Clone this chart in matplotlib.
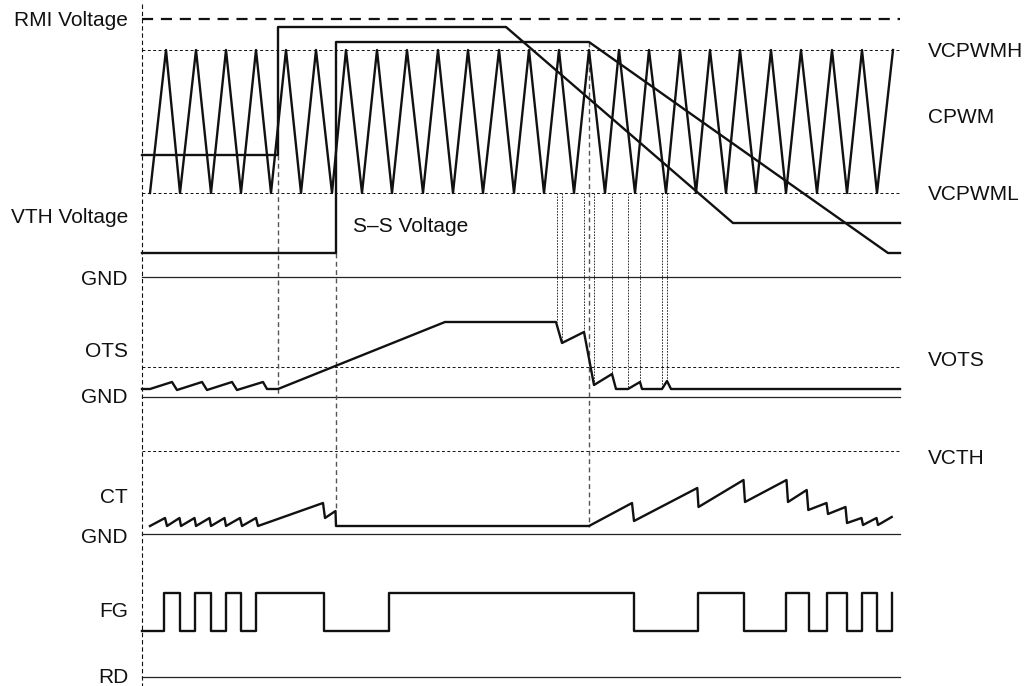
import matplotlib
matplotlib.use('Agg')
import matplotlib.pyplot as plt

plt.rcParams['font.family'] = ['Liberation Sans', 'DejaVu Sans']

# Layout in pixel units (x = time, y = level, top-down)
X0, X1 = 142, 900

# CPWM triangle carrier: trough and peak times
cpwm_troughs = [150, 180, 211, 241, 271, 301, 332, 362, 392, 423, 453, 483, 514,
                544, 574, 605, 635, 666, 696, 726, 756, 786, 817, 847, 877]
cpwm_peaks = [166, 196, 226, 256, 286, 316, 346, 377, 407, 438, 468, 499, 529,
              559, 589, 619, 649, 680, 710, 740, 771, 801, 832, 862, 893]
VCPWMH, VCPWML = 50, 193

# RMI voltage (solid) and S-S voltage waveforms
rmi_t = [142, 278, 278, 506, 733, 900]
rmi_v = [155, 155, 27, 27, 223, 223]
ss_t = [142, 336, 336, 589, 888, 900]
ss_v = [253, 253, 42, 42, 253, 253]

# OTS waveform
ots_t = [142, 150, 172, 177, 202, 207, 232, 237, 263, 267, 278, 445, 556, 562,
         584, 594, 612, 616, 628, 640, 642, 662, 667, 671, 900]
ots_v = [389, 389, 382, 390, 382, 390, 382, 390, 382, 389, 389, 322, 322, 343,
         332, 385, 374, 389, 389, 382, 389, 389, 381, 389, 389]
VOTS = 367

# CT waveform
ct_t = [150, 165, 167, 179.5, 181, 194.5, 196, 209.5, 211, 224.5, 226, 240, 242,
        256, 258, 323, 325, 335.5, 336, 589, 632, 634, 697.3, 698.5, 743.5, 745,
        786.5, 788, 806.7, 808.3, 826.5, 828, 845.5, 847, 861.5, 863, 876.5, 878, 891.7]
ct_v = [526, 518, 526, 518, 526, 518, 526, 518, 526, 518, 526, 518, 526,
        518, 526, 503, 518, 511, 526, 526, 503, 521, 488, 507, 480, 502,
        480, 502, 490, 510, 503, 514, 507, 523, 518, 525, 518, 525, 517]
VCTH = 451

# FG square wave edges (starting low)
fg_edges = [142, 164.3, 180, 195, 210.7, 225.7, 240.7, 256, 324, 389.3, 634, 697.7,
            744.3, 786, 809, 826.7, 846.7, 861.7, 876.7, 891.7]
fg_state = [0, 1, 0, 1, 0, 1, 0, 1, 0, 1, 0, 1, 0, 1, 0, 1, 0, 1, 0, 1]
FG_LO, FG_HI = 631, 593

GNDS = [277, 397, 534, 677]
RMI_LEVEL = 19

# comparator crossing times and where they land on OTS
cross_t = [556.7, 561.7, 584.3, 594, 611.7, 627.7, 640, 661.7, 667.3]
cross_v = [322, 343, 332, 385, 374, 389, 382, 389, 381]
# event markers (gray dashed): time, top, bottom
event_t = [278, 336, 589]
event_top = [155, 253, 42]
event_bot = [397, 510, 527]

left_labels = ['RMI Voltage', 'VTH Voltage', 'GND', 'OTS', 'GND', 'CT', 'GND', 'FG', 'RD']
left_base = [26, 223, 285, 357, 403, 503, 543, 617, 683]
right_labels = ['VCPWMH', 'CPWM', 'VCPWML', 'VOTS', 'VCTH']
right_base = [57, 123, 200, 366, 464]

fig = plt.figure(figsize=(10.28, 6.86), dpi=100)
ax = fig.add_axes([0, 0, 1, 1])
ax.set_xlim(0, 1028)
ax.set_ylim(686, 0)
ax.axis('off')

LW = 1.7
blk = '#111111'

# left boundary
ax.plot([X0, X0], [4, 686], color=blk, lw=0.8, dashes=(4, 2.5))

# reference levels
ax.plot([X0, X1], [RMI_LEVEL] * 2, color=blk, lw=1.6, dashes=(5, 3.5))
for lv in [VCPWMH, VCPWML, VOTS, VCTH]:
    ax.plot([X0, X1], [lv, lv], color=blk, lw=0.7, dashes=(3, 2.5))
for g in GNDS:
    ax.plot([X0, X1], [g, g], color='#222222', lw=0.9)

# event markers
for t, a, b in zip(event_t, event_top, event_bot):
    ax.plot([t, t], [a, b], color='#555555', lw=1.0, dashes=(3.5, 2.5))
for t, b in zip(cross_t, cross_v):
    ax.plot([t, t], [VCPWML, b], color=blk, lw=0.6, dashes=(2, 1.5))

# triangle carrier
tri_t, tri_v = [], []
for tr, pk in zip(cpwm_troughs, cpwm_peaks):
    tri_t += [tr, pk]
    tri_v += [VCPWML, VCPWMH]
ax.plot(tri_t, tri_v, color=blk, lw=LW)

ax.plot(rmi_t, rmi_v, color=blk, lw=LW)
ax.plot(ss_t, ss_v, color=blk, lw=LW)
ax.plot(ots_t, ots_v, color=blk, lw=LW)
ax.plot(ct_t, ct_v, color=blk, lw=LW)

fg_v = [FG_HI if s else FG_LO for s in fg_state]
ax.plot(fg_edges, fg_v, color=blk, lw=LW, drawstyle='steps-post')

fs = 15
for lab, y in zip(left_labels, left_base):
    ax.text(128, y, lab, ha='right', va='baseline', fontsize=fs, color=blk)
for lab, y in zip(right_labels, right_base):
    ax.text(928, y, lab, ha='left', va='baseline', fontsize=fs, color=blk)
ax.text(353, 232, 'S\u2013S Voltage', ha='left', va='baseline', fontsize=fs, color=blk)

fig.savefig('out.png', dpi=100)
